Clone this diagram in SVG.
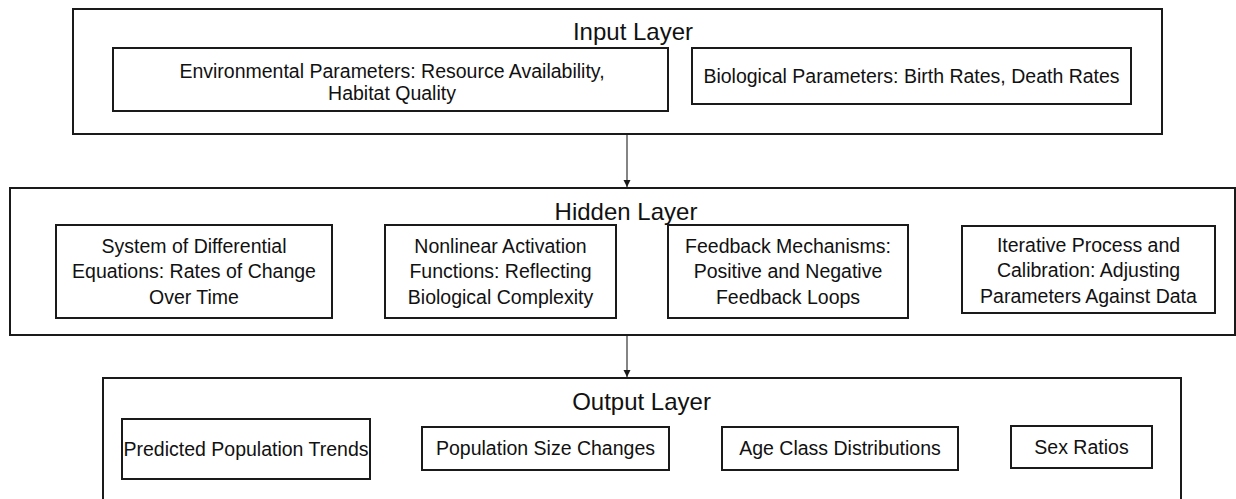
<svg xmlns="http://www.w3.org/2000/svg" width="1236" height="499" viewBox="0 0 1236 499">
  <style>
    .layer { fill: #ffffff; stroke: #1a1a1a; stroke-width: 2; }
    .box { fill: #ffffff; stroke: #1a1a1a; stroke-width: 2; }
    .title { font-family: "Liberation Sans", Arial, sans-serif; font-size: 24px; fill: #111111; text-anchor: middle; }
    .label { font-family: "Liberation Sans", Arial, sans-serif; font-size: 19.5px; fill: #111111; text-anchor: middle; }
    .edge { stroke: #333333; stroke-width: 1.2; fill: none; }
  </style>
  <defs>
    <marker id="arrowhead" viewBox="0 0 10 10" refX="10" refY="5" markerWidth="7" markerHeight="9" markerUnits="userSpaceOnUse" orient="auto">
      <path d="M0,0 L10,5 L0,10 Z" fill="#1a1a1a"/>
    </marker>
  </defs>

  <rect width="1236" height="499" fill="#ffffff"/>

  <!-- Input layer -->
  <g id="input-layer">
    <rect class="layer" x="73" y="9" width="1089" height="125"/>
    <text class="title" x="633" y="40">Input Layer</text>
  </g>
  <g id="env-params">
    <rect class="box" x="113" y="48" width="555" height="63"/>
    <text class="label" x="392" y="78">Environmental Parameters: Resource Availability,</text>
    <text class="label" x="392" y="100">Habitat Quality</text>
  </g>
  <g id="bio-params">
    <rect class="box" x="692" y="48" width="439" height="56"/>
    <text class="label" x="911.5" y="83">Biological Parameters: Birth Rates, Death Rates</text>
  </g>

  <!-- Hidden layer -->
  <g id="hidden-layer">
    <rect class="layer" x="10" y="188" width="1225" height="147"/>
    <text class="title" x="626" y="220">Hidden Layer</text>
  </g>
  <g id="diff-equations">
    <rect class="box" x="56" y="225" width="276" height="93"/>
    <text class="label" x="194" y="253">System of Differential</text>
    <text class="label" x="194" y="278">Equations: Rates of Change</text>
    <text class="label" x="194" y="304">Over Time</text>
  </g>
  <g id="activation">
    <rect class="box" x="385" y="225" width="231" height="93"/>
    <text class="label" x="500.5" y="253">Nonlinear Activation</text>
    <text class="label" x="500.5" y="278">Functions: Reflecting</text>
    <text class="label" x="500.5" y="304">Biological Complexity</text>
  </g>
  <g id="feedback">
    <rect class="box" x="668" y="225" width="240" height="93"/>
    <text class="label" x="788" y="253">Feedback Mechanisms:</text>
    <text class="label" x="788" y="278">Positive and Negative</text>
    <text class="label" x="788" y="304">Feedback Loops</text>
  </g>
  <g id="calibration">
    <rect class="box" x="962" y="226" width="253" height="87"/>
    <text class="label" x="1088.5" y="252">Iterative Process and</text>
    <text class="label" x="1088.5" y="277">Calibration: Adjusting</text>
    <text class="label" x="1088.5" y="303">Parameters Against Data</text>
  </g>

  <!-- Output layer -->
  <g id="output-layer">
    <rect class="layer" x="103" y="378" width="1078" height="140"/>
    <text class="title" x="641.5" y="410">Output Layer</text>
  </g>
  <g id="population-trends">
    <rect class="box" x="122" y="419" width="248" height="60"/>
    <text class="label" x="246" y="456">Predicted Population Trends</text>
  </g>
  <g id="size-changes">
    <rect class="box" x="422" y="427" width="247" height="43"/>
    <text class="label" x="545.5" y="455">Population Size Changes</text>
  </g>
  <g id="age-classes">
    <rect class="box" x="722" y="427" width="236" height="43"/>
    <text class="label" x="840" y="455">Age Class Distributions</text>
  </g>
  <g id="sex-ratios">
    <rect class="box" x="1011" y="426" width="141" height="42"/>
    <text class="label" x="1081.5" y="454">Sex Ratios</text>
  </g>

  <!-- Connectors between layers -->
  <g id="connectors">
    <line class="edge" x1="627" y1="135" x2="627" y2="187" marker-end="url(#arrowhead)"/>
    <line class="edge" x1="627" y1="336" x2="627" y2="377" marker-end="url(#arrowhead)"/>
  </g>
</svg>
